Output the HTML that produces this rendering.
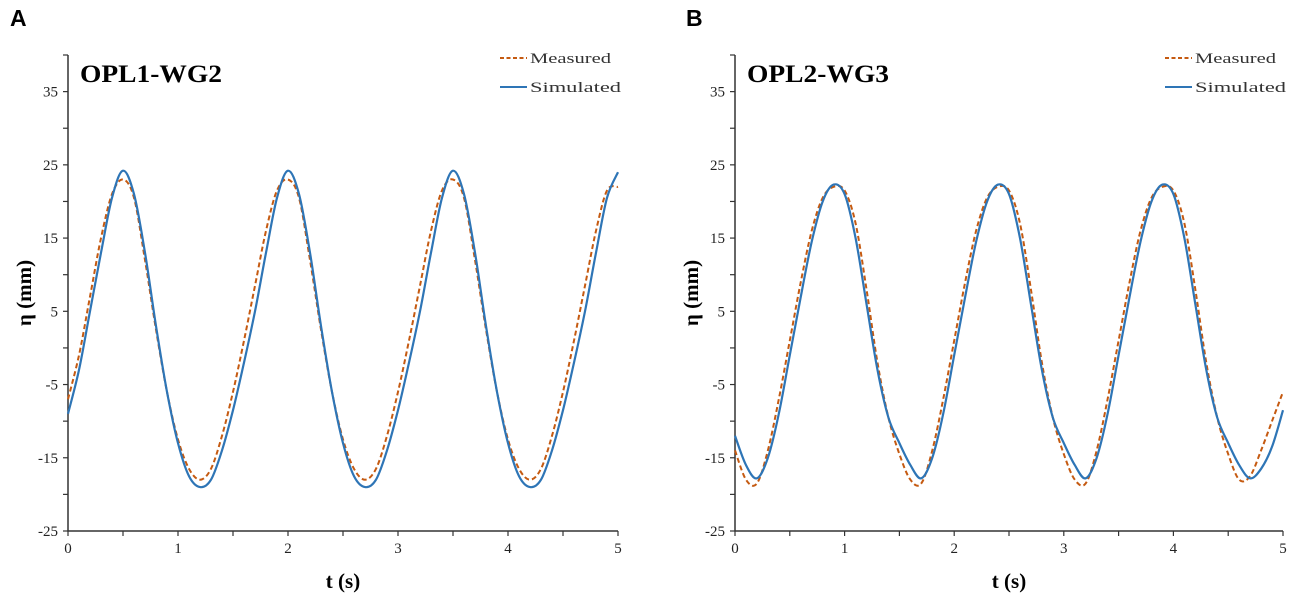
<!DOCTYPE html>
<html><head><meta charset="utf-8"><style>
body{margin:0;background:#fff;width:1299px;height:606px;overflow:hidden}
svg{display:block}
text{font-family:"Liberation Serif",serif}
</style></head><body>
<svg id="chart" width="1299" height="606"></svg>
<script>
const times=[0,0.1,0.2,0.3,0.4,0.5,0.6,0.7,0.8,0.9,1.0,1.1,1.2,1.3,1.4,1.5,1.6,1.7,1.8,1.9,2.0,2.1,2.2,2.3,2.4,2.5,2.6,2.7,2.8,2.9,3.0,3.1,3.2,3.3,3.4,3.5,3.6,3.7,3.8,3.9,4.0,4.1,4.2,4.3,4.4,4.5,4.6,4.7,4.8,4.9,5.0];
const aSim=[-9,-3,5,13,20.5, 24.2,21,13,3,-6,-13,-17.5,-19,-18,-14,-8.5,-2,5,13,20.5, 24.2,21,13,3,-6,-13,-17.5,-19,-18,-14,-8.5,-2,5,13,20.5, 24.2,21,13,3,-6,-13,-17.5,-19,-18,-14,-8.5,-2,5,13,20.5, 24];
const aMeas=[-7,-1,7,15,21, 23,20.5,12,2.5,-6,-12.5,-16.5,-18,-16.5,-12,-6,1,8.5,16,21.5, 23,20.5,12,2.5,-6,-12.5,-16.5,-18,-16.5,-12,-6,1,8.5,16,21.5, 23,20.5,12,2.5,-6,-12.5,-16.5,-18,-16.5,-12,-6,1,8.5,16,21.5, 22];
const bSim=[-12,-16, -17.8,-15,-9,-1,7,14.5,20,22.3,21,15,6,-3,-9.5,-13,-16, -17.8,-15,-9,-1,7,14.5,20,22.3,21,15,6,-3,-9.5,-13,-16, -17.8,-15,-9,-1,7,14.5,20,22.3,21,15,6,-3,-9.5,-13,-16, -17.8,-16.5,-13.5,-8.5];
const bMeas=[-14,-18, -18.5,-14,-7,1,9,16,20.5,22,21.5,17,8,-2,-9.5,-14.5,-18, -18.5,-14,-7,1,9,16,20.5,22,21.5,17,8,-2,-9.5,-14.5,-18, -18.5,-14,-7,1,9,16,20.5,22,21.5,17,8,-2,-9.5,-14.5,-18, -17.5,-14,-10,-6];
const yTicks=[35,25,15,5,-5,-15,-25];
const xTicks=[0,1,2,3,4,5];
const panels=[
 {key:'a',letter:'A',title:'OPL1-WG2',x0:68,x1:618,lx:10,sim:aSim,meas:aMeas},
 {key:'b',letter:'B',title:'OPL2-WG3',x0:735,x1:1283,lx:686,sim:bSim,meas:bMeas}
];
const NS='http://www.w3.org/2000/svg';
const svg=document.getElementById('chart');
function mk(tag,attrs,parent){const e=document.createElementNS(NS,tag);for(const k in attrs)e.setAttribute(k,attrs[k]);(parent||svg).appendChild(e);return e;}
const yTop=55,yBot=531,vTop=40,vBot=-25;
function Y(v){return yBot-(v-vBot)/(vTop-vBot)*(yBot-yTop);}
function smooth(pts){let d='M'+pts[0][0].toFixed(1)+','+pts[0][1].toFixed(1);
 for(let i=0;i<pts.length-1;i++){const p0=pts[Math.max(0,i-1)],p1=pts[i],p2=pts[i+1],p3=pts[Math.min(pts.length-1,i+2)];
  const c1=[p1[0]+(p2[0]-p0[0])/6,p1[1]+(p2[1]-p0[1])/6],c2=[p2[0]-(p3[0]-p1[0])/6,p2[1]-(p3[1]-p1[1])/6];
  d+='C'+c1[0].toFixed(1)+','+c1[1].toFixed(1)+' '+c2[0].toFixed(1)+','+c2[1].toFixed(1)+' '+p2[0].toFixed(1)+','+p2[1].toFixed(1);}
 return d;}
panels.forEach(p=>{
 const X=t=>p.x0+t/5*(p.x1-p.x0);
 const g=mk('g',{});
 
 
 const L=mk('text',{x:p.lx,y:26,'font-size':23,'font-weight':'bold',style:'font-family:"Liberation Sans",sans-serif'},g);L.textContent=p.letter;
 
 const ax=mk('path',{d:`M${p.x0},${yTop}V${yBot}H${p.x1}`,stroke:'#333',fill:'none','stroke-width':1.5},g);
 
 for(let v=vBot;v<=vTop;v+=5){mk('line',{x1:p.x0-5,x2:p.x0,y1:Y(v),y2:Y(v),stroke:'#333','stroke-width':1.2},g);}
 yTicks.forEach(v=>{const t=mk('text',{x:p.x0-10,y:Y(v)+5,'font-size':15,'text-anchor':'end',fill:'#222'},g);t.textContent=v;
  });
 for(let k=0;k<=10;k++){const tx=X(k*0.5);mk('line',{x1:tx,x2:tx,y1:yBot,y2:yBot+5,stroke:'#333','stroke-width':1.2},g);}
 xTicks.forEach(v=>{const t=mk('text',{x:X(v),y:yBot+22,'font-size':15,'text-anchor':'middle',fill:'#222'},g);t.textContent=v;
  });
 const yt=mk('text',{transform:`translate(${p.x0-37},${Y(7.5)}) rotate(-90)`,'font-size':21,'font-weight':'bold','text-anchor':'middle'},g);yt.textContent='η (mm)';
 
 const xt=mk('text',{x:(p.x0+p.x1)/2,y:588,'font-size':21,'font-weight':'bold','text-anchor':'middle'},g);xt.textContent='t (s)';
 
 const ti=mk('text',{x:p.x0+12,y:82,'font-size':25,'font-weight':'bold',textLength:142,lengthAdjust:'spacingAndGlyphs'},g);ti.textContent=p.title;
 
 const meas=mk('path',{d:smooth(times.map((t,i)=>[X(t),Y(p.meas[i])])),stroke:'#C55A11',fill:'none','stroke-width':2,'stroke-dasharray':'5,3'},g);
 
 const sim=mk('path',{d:smooth(times.map((t,i)=>[X(t),Y(p.sim[i])])),stroke:'#2E75B6',fill:'none','stroke-width':2.2},g);
 
 const lx=p.x1-118;
 const l1=mk('g',{},g);
 mk('line',{x1:lx,x2:lx+27,y1:58,y2:58,stroke:'#C55A11','stroke-width':2,'stroke-dasharray':'4,2.5'},l1);
 const t1=mk('text',{x:lx+30,y:63,'font-size':15,fill:'#333',textLength:81,lengthAdjust:'spacingAndGlyphs'},l1);t1.textContent='Measured';
 const l2=mk('g',{},g);
 mk('line',{x1:lx,x2:lx+27,y1:87,y2:87,stroke:'#2E75B6','stroke-width':2},l2);
 const t2=mk('text',{x:lx+30,y:92,'font-size':15,fill:'#333',textLength:91,lengthAdjust:'spacingAndGlyphs'},l2);t2.textContent='Simulated';
});
</script>
</body></html>
